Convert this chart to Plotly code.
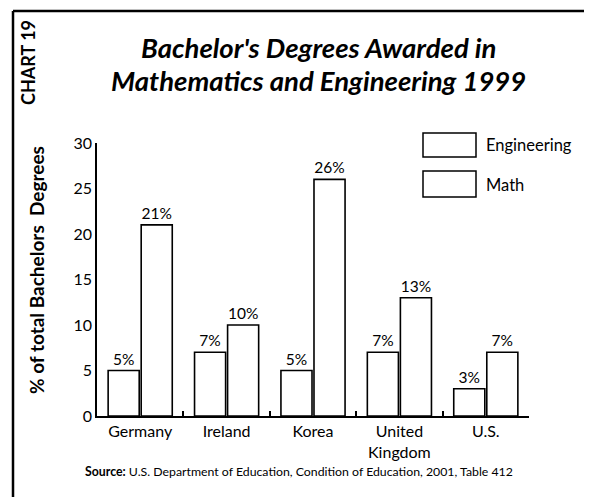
import plotly.graph_objects as go

countries = ["Germany", "Ireland", "Korea", "United<br>Kingdom", "U.S."]
engineering = [5, 7, 5, 7, 3]
math = [21, 10, 26, 13, 7]
series_names = ["Engineering", "Math"]
y_ticks = [0, 5, 10, 15, 20, 25, 30]

FONT = "Lato"
# the page body adds an 8px offset; size the figure so it ends at the window edge
OFF = 8
W, H = 592 - OFF, 497 - OFF
L, R, T, B = 97 - OFF, 63, 143 - OFF, 81
PW, PH = W - L - R, H - T - B
PLOT_LEFT, PLOT_BOTTOM = 97, 416  # page coordinates of the plot area

def px(x):
    return (x - PLOT_LEFT) / PW

def py(y):
    return (PLOT_BOTTOM - y) / PH

bar_style = dict(marker=dict(color="white", line=dict(color="black", width=1.6)),
                 textposition="outside", texttemplate="%{y}%",
                 textfont=dict(family=FONT, size=15.5, color="black"),
                 cliponaxis=False, showlegend=False)

fig = go.Figure()
fig.add_bar(x=countries, y=engineering, name=series_names[0], **bar_style)
fig.add_bar(x=countries, y=math, name=series_names[1], **bar_style)

frame = dict(type="line", xref="paper", yref="paper", line=dict(color="black", width=2.5), layer="above")
shapes = [
    # outer frame: top, left, right
    dict(frame, x0=px(13), x1=px(586), y0=py(11), y1=py(11)),
    dict(frame, x0=px(13), x1=px(13), y0=py(11), y1=py(520)),
    dict(frame, x0=px(586), x1=px(586), y0=py(11), y1=py(520)),
    # legend boxes
    dict(type="rect", xref="paper", yref="paper", x0=px(423), x1=px(476), y0=py(157), y1=py(133),
         line=dict(color="black", width=1.5), fillcolor="white"),
    dict(type="rect", xref="paper", yref="paper", x0=px(423), x1=px(476), y0=py(197), y1=py(171),
         line=dict(color="black", width=1.5), fillcolor="white"),
]

annotations = [
    dict(text="<b><i>Bachelor's Degrees Awarded in</i></b>", x=px(318), y=py(48), xref="paper", yref="paper",
         showarrow=False, font=dict(family=FONT, size=27.5, color="black"), xanchor="center", yanchor="middle"),
    dict(text="<b><i>Mathematics and Engineering 1999</i></b>", x=px(318), y=py(81), xref="paper", yref="paper",
         showarrow=False, font=dict(family=FONT, size=27.5, color="black"), xanchor="center", yanchor="middle"),
    dict(text="<b>CHART 19</b>", x=px(28), y=py(63), xref="paper", yref="paper", textangle=-90,
         showarrow=False, font=dict(family=FONT, size=18, color="black"), xanchor="center", yanchor="middle"),
    dict(text="<b>% of total Bachelors&nbsp;&nbsp;Degrees</b>", x=px(36), y=py(270), xref="paper", yref="paper",
         textangle=-90, showarrow=False, font=dict(family=FONT, size=19, color="black"),
         xanchor="center", yanchor="middle"),
    dict(text=series_names[0], x=px(484), y=py(145), xref="paper", yref="paper", showarrow=False,
         font=dict(family=FONT, size=16.5, color="black"), xanchor="left", yanchor="middle"),
    dict(text=series_names[1], x=px(484), y=py(185), xref="paper", yref="paper", showarrow=False,
         font=dict(family=FONT, size=16.5, color="black"), xanchor="left", yanchor="middle"),
    dict(text="<b>Source:</b> U.S. Department of Education, Condition of Education, 2001, Table 412",
         x=px(299), y=py(471), xref="paper", yref="paper", showarrow=False,
         font=dict(family=FONT, size=12.3, color="black"), xanchor="center", yanchor="middle"),
]

fig.update_layout(
    width=W, height=H,
    margin=dict(l=L, r=R, t=T, b=B, autoexpand=False),
    paper_bgcolor="white", plot_bgcolor="white",
    barmode="group", bargap=0.235, bargroupgap=0.06,
    font=dict(family=FONT, color="black"),
    shapes=shapes, annotations=annotations,
    showlegend=False,
)
fig.update_xaxes(showline=True, linecolor="black", linewidth=1.5, ticks="inside", tickson="boundaries",
                 ticklen=5, tickcolor="black", tickwidth=1.5, showgrid=False, automargin=False,
                 tickfont=dict(family=FONT, size=16, color="black"))
fig.update_yaxes(range=[0, 30], tickvals=y_ticks, showline=True, linecolor="black", linewidth=1.5,
                 ticks="", showgrid=False, zeroline=False, automargin=False,
                 tickfont=dict(family=FONT, size=16, color="black"))

fig.write_html("out.html")
